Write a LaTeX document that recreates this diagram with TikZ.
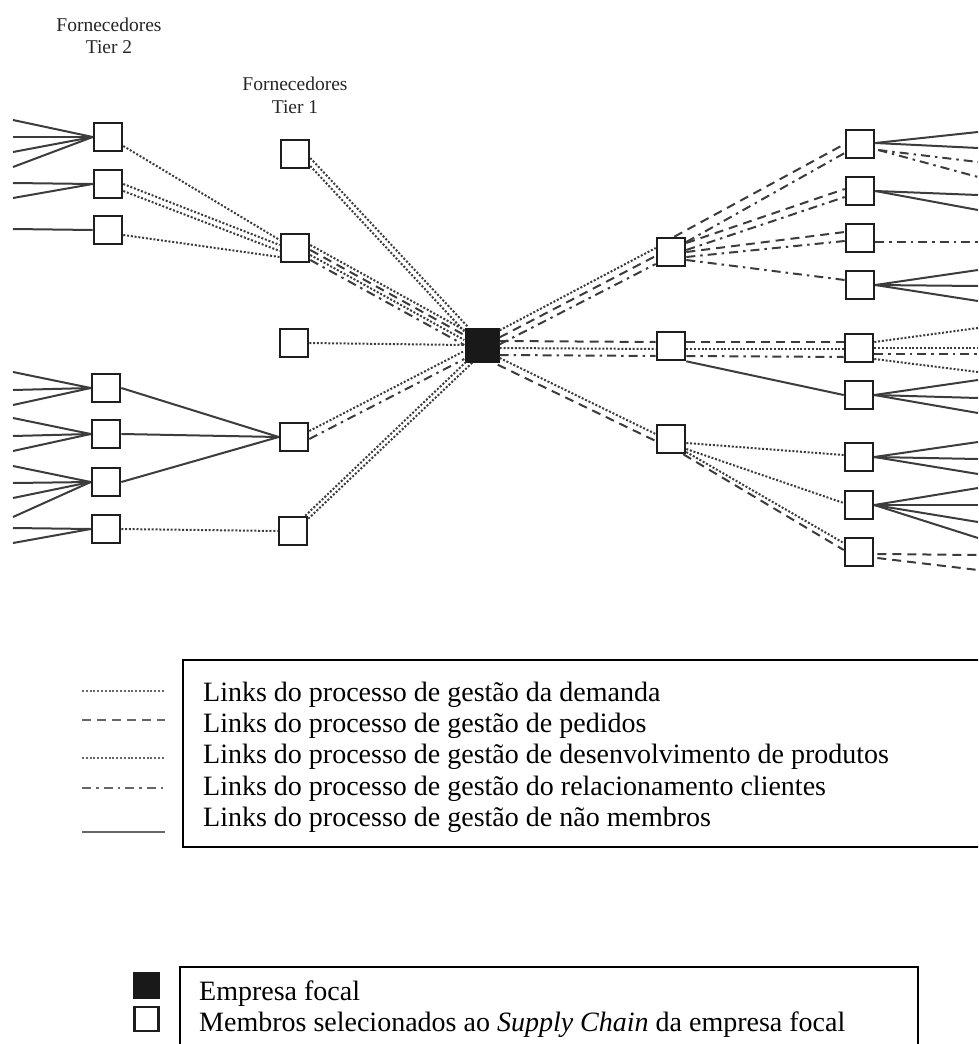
\documentclass[tikz,border=0pt]{standalone}
\usepackage{fontspec}
\setmainfont{Liberation Serif}
\definecolor{linec}{RGB}{60,60,60}
\definecolor{boxc}{RGB}{30,30,30}
\definecolor{focalc}{RGB}{25,25,25}
\begin{document}
\begin{tikzpicture}[x=1pt,y=-1pt,
  member/.style={draw=boxc, line width=2.6pt, fill=white, minimum size=28pt, inner sep=0pt},
  focalbox/.style={fill=focalc, minimum size=35pt, inner sep=0pt},
  lk/.style={draw=linec, line width=2pt},
  dem/.style={lk, dash pattern=on 2pt off 1.8pt},
  ped/.style={lk, dash pattern=on 9pt off 6pt},
  dev/.style={dem},
  rel/.style={lk, dash pattern=on 9pt off 5pt on 2.5pt off 5pt},
  nm/.style={lk},
  lbl/.style={font=\fontsize{19.5}{22}\selectfont, anchor=base, inner sep=0pt, text=black!85},
  leg/.style={font=\fontsize{28}{32}\selectfont, anchor=base west, inner sep=0pt},
  legframe/.style={draw=black, line width=1.8pt}]
\path[use as bounding box] (0,0) rectangle (978,1044);
\clip (0,0) rectangle (978,1044);

% column headings
\node[lbl] (h2a) at (109,31) {Fornecedores};
\node[lbl] (h2b) at (109,53) {Tier 2};
\node[lbl] (h1a) at (295,90) {Fornecedores};
\node[lbl] (h1b) at (295,113) {Tier 1};

% tier 2 suppliers
\node[member] (s1) at (108,137) {};
\node[member] (s2) at (108,184) {};
\node[member] (s3) at (108,230) {};
\node[member] (s4) at (106,388) {};
\node[member] (s5) at (106,434) {};
\node[member] (s6) at (106,482) {};
\node[member] (s7) at (106,529) {};
% tier 1 suppliers
\node[member] (t1) at (295,154) {};
\node[member] (t2) at (295,248) {};
\node[member] (t3) at (294,343) {};
\node[member] (t4) at (294,437) {};
\node[member] (t5) at (293,531) {};
% focal company
\node[focalbox] (f) at (482,345) {};
% tier 1 customers
\node[member] (c1) at (671,252) {};
\node[member] (c2) at (671,346) {};
\node[member] (c3) at (671,439) {};
% tier 2 customers
\node[member] (r1) at (860,144) {};
\node[member] (r2) at (860,191) {};
\node[member] (r3) at (860,238) {};
\node[member] (r4) at (860,285) {};
\node[member] (r5) at (859,348) {};
\node[member] (r6) at (859,395) {};
\node[member] (r7) at (859,457) {};
\node[member] (r8) at (859,505) {};
\node[member] (r9) at (859,552) {};

% non-member links entering tier 2 suppliers
\foreach \n/\ys in {s1/{120,137,152,167}, s2/{183,198}, s3/{229},
                    s4/{372,390,405}, s5/{418,436,451}, s6/{466,483,498,517}, s7/{528,543}} {
  \foreach \y [count=\i] in \ys {
    \coordinate (\n in\i) at (13,\y);
    \draw[nm] (\n in\i) -- (\n.west);
  }
}

% tier 2 -> tier 1
\draw[dem] ([shift={(0,9)}]s1.east) -- ([shift={(0,-8)}]t2.west);
\draw[dem] (s2.east) -- ([shift={(0,-3)}]t2.west);
\draw[dev] ([shift={(0,7)}]s2.east) -- ([shift={(0,3)}]t2.west);
\draw[dem] ([shift={(0,5)}]s3.east) -- ([shift={(0,9)}]t2.west);
\draw[nm] (s4.east) -- (t4.west);
\draw[nm] (s5.east) -- (t4.west);
\draw[nm] (s6.east) -- (t4.west);
\draw[dem] (s7.east) -- (t5.west);

% tier 1 -> focal company
\draw[dem] ([shift={(0,4)}]t1.east) -- ([shift={(4,0)}]f.north west);
\draw[dev] ([shift={(0,12)}]t1.east) -- ([shift={(0,4)}]f.north west);
\draw[dem] ([shift={(0,-3)}]t2.east) -- ([shift={(0,-15)}]f.west);
\draw[ped] ([shift={(0,2)}]t2.east) -- ([shift={(0,-10)}]f.west);
\draw[dev] ([shift={(0,7)}]t2.east) -- ([shift={(0,-5)}]f.west);
\draw[rel] ([shift={(0,12)}]t2.east) -- (f.west);
\draw[dem] (t3.east) -- (f.west);
\draw[dem] ([shift={(0,-6)}]t4.east) -- ([shift={(0,6)}]f.west);
\draw[rel] ([shift={(0,2)}]t4.east) -- ([shift={(0,14)}]f.west);
\draw[dem] ([shift={(-3,0)}]t5.north east) -- ([shift={(3,-2)}]f.south west);
\draw[dev] ([shift={(0,3)}]t5.north east) -- ([shift={(8,0)}]f.south west);

% focal company -> tier 1 customers
\draw[dem] ([shift={(0,3)}]f.north east) -- ([shift={(0,-4)}]c1.west);
\draw[ped] ([shift={(0,10)}]f.north east) -- ([shift={(0,4)}]c1.west);
\draw[rel] ([shift={(0,17)}]f.north east) -- ([shift={(0,12)}]c1.west);
\draw[ped] ([shift={(0,-4)}]f.east) -- ([shift={(0,-4)}]c2.west);
\draw[dem] ([shift={(0,3)}]f.east) -- ([shift={(0,3)}]c2.west);
\draw[rel] ([shift={(0,10)}]f.east) -- ([shift={(0,10)}]c2.west);
\draw[dem] ([shift={(0,13)}]f.east) -- ([shift={(0,-5)}]c3.west);
\draw[ped] ([shift={(-2,2)}]f.south east) -- ([shift={(0,2)}]c3.west);

% tier 1 customers -> tier 2 customers
\draw[ped] ([shift={(-12,0)}]c1.north east) -- (r1.west);
\draw[rel] ([shift={(0,-10)}]c1.east) -- ([shift={(0,9)}]r1.west);
\draw[ped] ([shift={(0,-9)}]c1.east) -- ([shift={(0,-2)}]r2.west);
\draw[rel] ([shift={(0,-2)}]c1.east) -- ([shift={(0,6)}]r2.west);
\draw[ped] ([shift={(0,0)}]c1.east) -- ([shift={(0,-6)}]r3.west);
\draw[rel] ([shift={(0,5)}]c1.east) -- ([shift={(0,3)}]r3.west);
\draw[rel] ([shift={(0,8)}]c1.east) -- ([shift={(0,-5)}]r4.west);
\draw[ped] ([shift={(0,-4)}]c2.east) -- ([shift={(0,-6)}]r5.west);
\draw[dem] ([shift={(0,3)}]c2.east) -- ([shift={(0,1)}]r5.west);
\draw[rel] ([shift={(0,10)}]c2.east) -- ([shift={(0,9)}]r5.west);
\draw[nm] (c2.south east) -- (r6.west);
\draw[dem] ([shift={(0,4)}]c3.east) -- ([shift={(0,-2)}]r7.west);
\draw[dem] ([shift={(0,10)}]c3.east) -- ([shift={(0,-2)}]r8.west);
\draw[dem] ([shift={(0,13)}]c3.east) -- ([shift={(0,-9)}]r9.west);
\draw[ped] ([shift={(-3,0)}]c3.south east) -- ([shift={(0,-2)}]r9.west);

% links leaving tier 2 customers
\foreach \n/\st/\sh/\ys in {r1/nm/{0,-1}/{132,148}, r1/rel/{3,6}/{162,177},
    r2/nm/{0,0}/{195,210}, r3/rel/{0,4}/{242}, r4/nm/{0,0}/{270,286,301},
    r5/dem/{0,-6}/{328}, r5/dem/{0,0}/{348}, r5/rel/{0,6}/{354}, r5/dem/{0,11}/{372},
    r6/nm/{0,0}/{380,398,413}, r7/nm/{0,0}/{442,459,474},
    r8/nm/{0,0}/{488,505,522,538}, r9/ped/{3,2}/{555}, r9/ped/{3,6}/{570}} {
  \foreach \y [count=\i] in \ys {
    \coordinate (\n out\y) at (978,\y);
    \draw[\st] ([shift={(\sh)}]\n.east) -- (\n out\y);
  }
}

% legend of link types
\draw[legframe] (183,660) rectangle (995,847);
\foreach \st/\y [count=\i] in {dem/691, ped/720, dev/758, rel/788, nm/832} {
  \coordinate (ka\i) at (82,\y);
  \coordinate (kb\i) at (165,\y);
  \draw[\st, line width=1.6pt, draw=black!60] (ka\i) -- (kb\i);
}
\node[leg] (l1) at (203,701) {Links do processo de gestão da demanda};
\node[leg] (l2) at (203,732) {Links do processo de gestão de pedidos};
\node[leg] (l3) at (203,763.5) {Links do processo de gestão de desenvolvimento de produtos};
\node[leg] (l4) at (203,795) {Links do processo de gestão do relacionamento clientes};
\node[leg] (l5) at (203,826) {Links do processo de gestão de não membros};

% legend of members
\draw[legframe] (180,967) rectangle (918,1060);
\node[fill=focalc, minimum size=27pt, inner sep=0pt] (kf) at (146.5,985) {};
\node[draw=boxc, line width=2.4pt, fill=white, minimum size=24pt, inner sep=0pt] (km) at (146.5,1019) {};
\node[leg] (e1) at (199,1000) {Empresa focal};
\node[leg] (e2) at (199,1031) {Membros selecionados ao \textit{Supply Chain} da empresa focal};
\end{tikzpicture}
\end{document}
